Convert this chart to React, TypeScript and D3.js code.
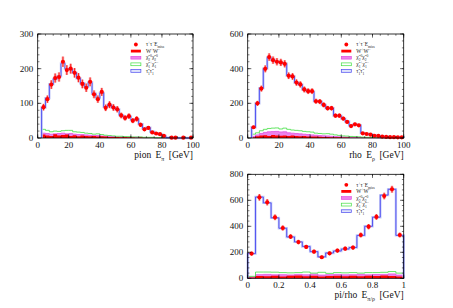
import React from "react";
import * as d3 from "d3";

// bin layout: energy panels use 2.5 GeV bins from 2.5 to 100, ratio panel 0.05 bins
const energyEdges = d3.range(40).map((i) => 2.5 + 2.5 * i);
const ratioEdges = d3.range(21).map((i) => 0.05 * i);

// pion E_pi
const pionData = [89, 112, 154, 173, 176, 220, 196, 200, 188, 174, 156, 145, 162, 126, 112, 133, 87, 96, 88, 83, 65, 58, 63, 50, 55, 38, 25, 29, 16, 13, 11, 6, 0, 1, 1, 0, 1, 0, 1];
const pionMC = [88, 115, 155, 170, 178, 215, 200, 198, 188, 172, 158, 148, 160, 128, 115, 130, 90, 95, 88, 82, 66, 60, 62, 52, 54, 40, 28, 30, 18, 14, 11, 6, 1, 0, 0, 0, 0, 0, 0];
const pionChi1 = [25, 22, 18, 20, 19, 21, 22, 22, 18, 17, 16, 14, 13, 11, 12, 10, 8, 7, 6, 5, 5, 4, 4, 3, 3, 3, 2, 2, 2, 1, 1, 1, 0, 0, 0, 0, 0, 0, 0];
const pionChi2 = [14, 13, 11, 12, 13, 14, 12, 13, 11, 10, 10, 9, 8, 7, 7, 6, 5, 5, 4, 3, 3, 3, 2, 2, 2, 1, 1, 1, 1, 0, 0, 0, 0, 0, 0, 0, 0, 0, 0];
const pionWW = [10, 7, 6, 11, 7, 9, 10, 6, 8, 5, 7, 6, 5, 6, 4, 5, 4, 3, 3, 3, 2, 3, 2, 2, 1, 2, 1, 1, 1, 0, 0, 0, 0, 0, 0, 0, 0, 0, 0];

// rho E_rho
const rhoData = [62, 200, 285, 399, 467, 449, 440, 436, 428, 359, 355, 320, 309, 280, 270, 270, 212, 210, 191, 172, 172, 129, 129, 112, 93, 69, 79, 73, 27, 23, 19, 13, 12, 8, 6, 5, 5, 4, 4];
const rhoMC = [62, 200, 288, 400, 465, 450, 440, 435, 428, 360, 355, 320, 308, 280, 270, 268, 212, 210, 190, 172, 172, 130, 128, 112, 95, 72, 78, 74, 28, 24, 20, 14, 12, 8, 6, 5, 5, 4, 4];
const rhoChi1 = [22, 30, 42, 50, 55, 57, 58, 52, 57, 50, 46, 44, 42, 38, 36, 34, 28, 26, 24, 25, 22, 18, 15, 12, 11, 9, 8, 7, 5, 4, 3, 3, 2, 1, 1, 1, 0, 0, 0];
const rhoChi2 = [10, 18, 26, 32, 36, 37, 38, 35, 36, 30, 28, 26, 24, 22, 20, 18, 16, 14, 13, 12, 10, 9, 7, 6, 5, 4, 4, 3, 2, 2, 1, 1, 1, 0, 0, 0, 0, 0, 0];
const rhoWW = [5, 10, 14, 16, 12, 17, 14, 13, 15, 11, 14, 12, 10, 11, 9, 8, 8, 7, 6, 6, 5, 4, 4, 3, 3, 2, 2, 2, 1, 1, 1, 0, 0, 0, 0, 0, 0, 0, 0];

// pi/rho E_pi/rho
const ratioData = [190, 623, 585, 469, 387, 320, 279, 241, 205, 162, 192, 213, 228, 236, 333, 397, 472, 633, 685, 333];
const ratioMC = [190, 625, 580, 465, 385, 318, 280, 245, 205, 165, 195, 210, 225, 237, 330, 400, 470, 640, 685, 330];
const ratioChi1 = [15, 48, 48, 47, 44, 42, 44, 48, 40, 46, 38, 44, 42, 44, 40, 44, 44, 46, 52, 40];
const ratioChi2 = [10, 28, 30, 27, 28, 26, 30, 27, 32, 25, 28, 30, 27, 28, 30, 27, 29, 30, 34, 25];
const ratioWW = [6, 18, 16, 20, 14, 19, 22, 15, 20, 14, 18, 20, 16, 19, 15, 20, 17, 22, 18, 14];

const legendLabels = ["tautau", "WW", "chi2", "chi1", "stau"];

const FONT = "'Liberation Serif', 'DejaVu Serif', serif";

type PanelProps = {
  left: number;
  top: number;
  width: number;
  height: number;
  edges: number[];
  xDomain: [number, number];
  xTicks: number[];
  xMinor: number;
  xFmt: (v: number) => string;
  yTicks: number[];
  yMax: number;
  yMinor: number;
  data: number[];
  mc: number[];
  chi1: number[];
  chi2: number[];
  ww: number[];
  xlabel: React.ReactNode;
};

function stepPoints(edges: number[], vals: number[]): [number, number][] {
  const pts: [number, number][] = [[edges[0], 0]];
  vals.forEach((v, i) => {
    pts.push([edges[i], v]);
    pts.push([edges[i + 1], v]);
  });
  pts.push([edges[vals.length], 0]);
  return pts;
}

function LegendText({ kind }: { kind: string }) {
  const sup = { baselineShift: "super", fontSize: "3.6px" } as React.CSSProperties;
  const sub = { baselineShift: "sub", fontSize: "3.6px" } as React.CSSProperties;
  if (kind === "tautau")
    return (<>τ<tspan style={sup}>+</tspan>τ<tspan style={sup}>−</tspan>E<tspan style={sub}>miss</tspan></>);
  if (kind === "WW")
    return (<>W<tspan style={sup}>+</tspan>W<tspan style={sup}>−</tspan></>);
  if (kind === "chi2")
    return (<>χ̃<tspan style={sub}>2</tspan><tspan style={sup}>0</tspan>χ̃<tspan style={sub}>2</tspan><tspan style={sup}>0</tspan></>);
  if (kind === "chi1")
    return (<>χ̃<tspan style={sub}>1</tspan><tspan style={sup}>+</tspan>χ̃<tspan style={sub}>1</tspan><tspan style={sup}>−</tspan></>);
  return (<>τ̃<tspan style={sub}>1</tspan>τ̃<tspan style={sub}>1</tspan></>);
}

function Panel(p: PanelProps) {
  const x = d3.scaleLinear().domain(p.xDomain).range([p.left, p.left + p.width]);
  const y = d3.scaleLinear().domain([0, p.yMax]).range([p.top + p.height, p.top]);
  const line = d3.line<[number, number]>().x((d) => x(d[0])).y((d) => y(d[1]));
  const area = d3.area<[number, number]>().x((d) => x(d[0])).y0(y(0)).y1((d) => y(d[1]));
  const cumChi2 = p.ww.map((v, i) => Math.max(v, p.chi2[i]));
  const wwPts = stepPoints(p.edges, p.ww);
  const chi2Pts = stepPoints(p.edges, cumChi2);
  const mcPts = stepPoints(p.edges, p.mc);
  const bottom = p.top + p.height;
  const right = p.left + p.width;

  const yMinorTicks = d3.range(0, p.yMax + 1e-9, p.yMinor);
  const xMinorTicks = d3.range(p.xDomain[0], p.xDomain[1] + 1e-9, p.xMinor);

  const lx = p.left + p.width * 0.6;
  const ly = p.top + 10.5;
  const dy = 6.6;

  return (
    <g>
      {/* chi2 chi2 hatched */}
      <path d={area(chi2Pts) ?? ""} fill="url(#hatch)" stroke="none" />
      <path d={line(chi2Pts) ?? ""} fill="none" stroke="#e040e0" strokeWidth={0.7} />
      {/* W+W- filled */}
      <path d={area(wwPts) ?? ""} fill="#ff0000" stroke="none" />
      {/* chi1 chi1 outline */}
      <path d={line(stepPoints(p.edges, p.chi1)) ?? ""} fill="none" stroke="#40e040" strokeWidth={0.8} />
      {/* stau total */}
      <path d={line(mcPts) ?? ""} fill="none" stroke="#c3c9f7" strokeWidth={2.4} />
      <path d={line(mcPts) ?? ""} fill="none" stroke="#4a4af0" strokeWidth={0.9} />
      {/* data points */}
      {p.data.map((v, i) => {
        const cx = x((p.edges[i] + p.edges[i + 1]) / 2);
        const e = Math.sqrt(v);
        if (v <= 0) return null;
        return (
          <g key={i}>
            <line x1={cx} x2={cx} y1={y(v - e)} y2={y(Math.min(v + e, p.yMax))} stroke="#f6a8a8" strokeWidth={2.6} />
            <line x1={cx} x2={cx} y1={y(v - e)} y2={y(Math.min(v + e, p.yMax))} stroke="#ff1010" strokeWidth={0.9} />
            <circle cx={cx} cy={y(v)} r={2.1} fill="#ff0000" />
          </g>
        );
      })}
      {/* frame */}
      <rect x={p.left} y={p.top} width={p.width} height={p.height} fill="none" stroke="#000" strokeWidth={0.8} />
      {/* ticks */}
      {xMinorTicks.map((t, i) => (
        <g key={"xm" + i}>
          <line x1={x(t)} x2={x(t)} y1={bottom} y2={bottom - 1.8} stroke="#000" strokeWidth={0.5} />
          <line x1={x(t)} x2={x(t)} y1={p.top} y2={p.top + 1.8} stroke="#000" strokeWidth={0.5} />
        </g>
      ))}
      {p.xTicks.map((t, i) => (
        <g key={"xM" + i}>
          <line x1={x(t)} x2={x(t)} y1={bottom} y2={bottom - 3.6} stroke="#000" strokeWidth={0.6} />
          <line x1={x(t)} x2={x(t)} y1={p.top} y2={p.top + 3.6} stroke="#000" strokeWidth={0.6} />
          <text x={x(t)} y={bottom + 9.5} textAnchor="middle" fontSize={9} fontFamily={FONT} fill="#111">{p.xFmt(t)}</text>
        </g>
      ))}
      {yMinorTicks.map((t, i) => (
        <g key={"ym" + i}>
          <line x1={p.left} x2={p.left + 1.8} y1={y(t)} y2={y(t)} stroke="#000" strokeWidth={0.5} />
          <line x1={right} x2={right - 1.8} y1={y(t)} y2={y(t)} stroke="#000" strokeWidth={0.5} />
        </g>
      ))}
      {p.yTicks.map((t, i) => (
        <g key={"yM" + i}>
          <line x1={p.left} x2={p.left + 3.6} y1={y(t)} y2={y(t)} stroke="#000" strokeWidth={0.6} />
          <line x1={right} x2={right - 3.6} y1={y(t)} y2={y(t)} stroke="#000" strokeWidth={0.6} />
          <text x={p.left - 4.5} y={y(t) + 3} textAnchor="end" fontSize={9} fontFamily={FONT} fill="#111">{t}</text>
        </g>
      ))}
      {/* legend */}
      {legendLabels.map((k, i) => (
        <g key={k}>
          {i === 0 && <circle cx={lx + 5} cy={ly} r={1.9} fill="#ff0000" />}
          {i === 1 && <rect x={lx} y={ly + dy * i - 1.4} width={10} height={2.8} fill="#ff0000" />}
          {i === 2 && <rect x={lx} y={ly + dy * i - 1.4} width={10} height={2.8} fill="url(#hatch)" stroke="#e040e0" strokeWidth={0.6} />}
          {i === 3 && <rect x={lx} y={ly + dy * i - 1.4} width={10} height={2.8} fill="none" stroke="#40e040" strokeWidth={0.7} />}
          {i === 4 && <rect x={lx} y={ly + dy * i - 1.4} width={10} height={2.8} fill="#dfe3fb" stroke="#4a4af0" strokeWidth={0.7} />}
          <text x={lx + 15} y={ly + dy * i + 1.7} fontSize={5.4} fontFamily={FONT} fill="#222">
            <LegendText kind={k} />
          </text>
        </g>
      ))}
      <text x={right} y={bottom + 19.5} textAnchor="end" fontSize={9.5} fontFamily={FONT} fill="#111" style={{ wordSpacing: "2px" }}>
        {p.xlabel}
      </text>
    </g>
  );
}

export default function App() {
  const energyTicks = [0, 20, 40, 60, 80, 100];
  const ratioTicks = [0, 0.2, 0.4, 0.6, 0.8, 1];
  const sub = { baselineShift: "sub", fontSize: "6px" } as React.CSSProperties;
  return (
    <svg width={453} height={308} style={{ position: "absolute", left: 0, top: 0, background: "#fff" }}>
      <defs>
        <pattern id="hatch" width={2} height={2} patternUnits="userSpaceOnUse">
          <rect width={2} height={2} fill="#f6c8f6" />
          <path d="M0,0 L2,2 M2,0 L0,2" stroke="#e040e0" strokeWidth={0.5} />
        </pattern>
      </defs>
      <Panel left={37.7} top={34} width={155.3} height={104} edges={energyEdges} xDomain={[0, 100]}
        xTicks={energyTicks} xMinor={5} xFmt={(v) => String(v)} yTicks={[0, 100, 200, 300]} yMax={300} yMinor={20}
        data={pionData} mc={pionMC} chi1={pionChi1} chi2={pionChi2} ww={pionWW}
        xlabel={<>pion E<tspan style={sub}>π</tspan>{"   "}[GeV]</>} />
      <Panel left={247.7} top={34} width={156} height={104} edges={energyEdges} xDomain={[0, 100]}
        xTicks={energyTicks} xMinor={5} xFmt={(v) => String(v)} yTicks={[0, 200, 400, 600]} yMax={600} yMinor={40}
        data={rhoData} mc={rhoMC} chi1={rhoChi1} chi2={rhoChi2} ww={rhoWW}
        xlabel={<>rho E<tspan style={sub}>ρ</tspan>{"   "}[GeV]</>} />
      <Panel left={247.7} top={174.3} width={156} height={104} edges={ratioEdges} xDomain={[0, 1]}
        xTicks={ratioTicks} xMinor={0.05} xFmt={(v) => (v === 0 || v === 1 ? String(v) : v.toFixed(1))} yTicks={[0, 200, 400, 600, 800]} yMax={800} yMinor={40}
        data={ratioData} mc={ratioMC} chi1={ratioChi1} chi2={ratioChi2} ww={ratioWW}
        xlabel={<>pi/rho E<tspan style={sub}>π/ρ</tspan>{"   "}[GeV]</>} />
    </svg>
  );
}
